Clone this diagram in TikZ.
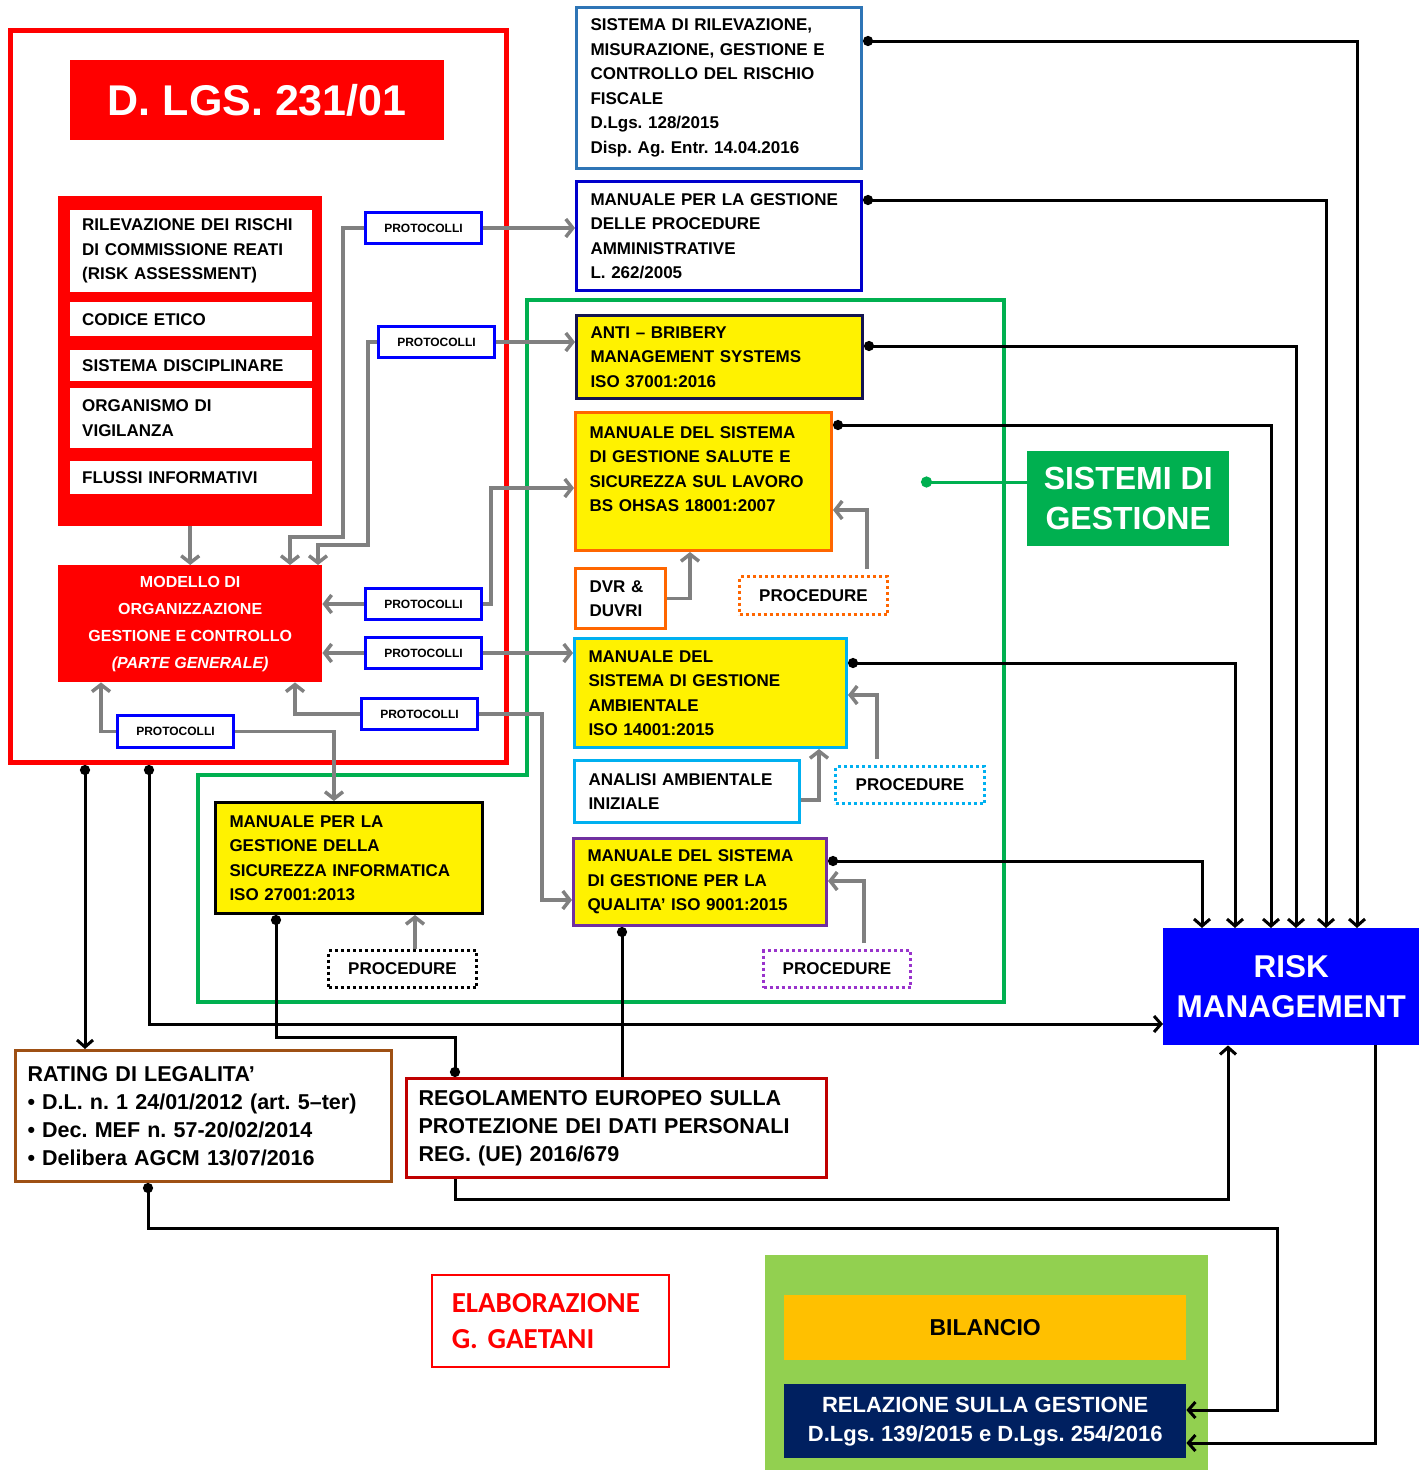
\documentclass[tikz,border=0pt]{standalone}
\usepackage{fontspec}
\setmainfont{Liberation Sans}
\newfontfamily\calfont{Carlito}
\usetikzlibrary{arrows.meta}
\frenchspacing

\definecolor{lgsred}{RGB}{255,0,0}
\definecolor{protblue}{RGB}{0,0,255}
\definecolor{arrowgray}{RGB}{128,128,128}
\definecolor{fiscblue}{RGB}{46,117,182}
\definecolor{mpablue}{RGB}{0,0,204}
\definecolor{antinavy}{RGB}{20,20,80}
\definecolor{hseorange}{RGB}{255,102,0}
\definecolor{ambcyan}{RGB}{0,176,240}
\definecolor{qualpurple}{RGB}{112,48,160}
\definecolor{procpurple}{RGB}{153,51,204}
\definecolor{sgreen}{RGB}{0,176,80}
\definecolor{ratingbrown}{RGB}{158,80,20}
\definecolor{regred}{RGB}{192,0,0}
\definecolor{panelgreen}{RGB}{146,208,80}
\definecolor{bilorange}{RGB}{255,192,0}
\definecolor{relnavy}{RGB}{0,32,96}
\definecolor{rmblue}{RGB}{0,0,255}

\tikzset{
  every node/.style={anchor=north west},
  row/.style={fill=white, text width=218pt, inner xsep=12pt, inner ysep=0pt, align=left,
    font=\bfseries\fontsize{17}{24.5}\selectfont},
  box/.style={draw, line width=3pt, fill=white, inner xsep=14pt, inner ysep=0pt, align=left,
    font=\bfseries\fontsize{17}{24.5}\selectfont},
  prot/.style={draw=protblue, line width=3pt, fill=white, minimum width=116pt, minimum height=31pt,
    inner sep=0pt, font=\bfseries\fontsize{12}{14}\selectfont},
  proc/.style={draw=#1, line width=3pt, dash pattern=on 3pt off 3pt, fill=white, inner sep=0pt,
    font=\bfseries\fontsize{17}{20}\selectfont},
  gr/.style={draw=arrowgray, line width=3.5pt, -{Straight Barb[length=7pt,width=18pt]}},
  bk/.style={draw=black, line width=3pt},
  bkarr/.style={bk, -{Straight Barb[length=7pt,width=16pt]}},
  bkdotarr/.style={bk, {Circle[length=10pt]}-{Straight Barb[length=7pt,width=16pt]}},
  bkdot/.style={bk, {Circle[length=10pt]}-},
  bkdotdot/.style={bk, {Circle[length=10pt]}-{Circle[length=10pt]}},
}

\begin{document}
\begin{tikzpicture}[x=1pt, y=-1pt]
\useasboundingbox (0,0) rectangle (1427,1470);

% D. Lgs. 231/01
\node[draw=lgsred, line width=5pt, minimum width=496pt, minimum height=732pt, inner sep=0pt] (dlgs) at (8,28) {};
\node[fill=lgsred, minimum width=374pt, minimum height=80pt, inner sep=0pt, text=white,
  font=\bfseries\fontsize{43}{50}\selectfont] (title) at (70,60) {D. LGS. 231/01};
\node[fill=lgsred, minimum width=264pt, minimum height=330pt, inner sep=0pt] (parti) at (58,196) {};
\node[row, minimum height=82pt] (rischi) at (70,210) {RILEVAZIONE DEI RISCHI\\DI COMMISSIONE REATI\\(RISK ASSESSMENT)};
\node[row, minimum height=34pt] (codice) at (70,302) {CODICE ETICO};
\node[row, minimum height=31pt] (discip) at (70,350) {SISTEMA DISCIPLINARE};
\node[row, minimum height=60pt] (odv) at (70,388) {ORGANISMO DI\\VIGILANZA};
\node[row, minimum height=33pt] (flussi) at (70,461) {FLUSSI INFORMATIVI};
\node[fill=lgsred, text=white, minimum width=264pt, minimum height=117pt, inner sep=0pt, align=center,
  font=\bfseries\fontsize{16}{27}\selectfont] (modello) at (58,565)
  {MODELLO DI\\ORGANIZZAZIONE\\GESTIONE E CONTROLLO\\\textit{(PARTE GENERALE)}};

\node[prot] (p1) at (364,211) {PROTOCOLLI};
\node[prot] (p2) at (377,325) {PROTOCOLLI};
\node[prot] (p3) at (364,587) {PROTOCOLLI};
\node[prot] (p4) at (364,636) {PROTOCOLLI};
\node[prot] (p5) at (360,697) {PROTOCOLLI};
\node[prot, minimum height=32pt] (p6) at (116,714) {PROTOCOLLI};

% sistemi di gestione
\draw[sgreen, line width=4pt] (527,300) -- (1004,300) -- (1004,1002) -- (198,1002) -- (198,775) -- (527,775) -- cycle;

\node[box, draw=fiscblue, text width=257pt, minimum height=161pt] (fisc) at (575,6)
  {SISTEMA DI RILEVAZIONE,\\MISURAZIONE, GESTIONE E\\CONTROLLO DEL RISCHIO\\FISCALE\\D.Lgs. 128/2015\\Disp. Ag. Entr. 14.04.2016};
\node[box, draw=mpablue, text width=257pt, minimum height=109pt] (mpa) at (575,180)
  {MANUALE PER LA GESTIONE\\DELLE PROCEDURE\\AMMINISTRATIVE\\L. 262/2005};
\node[box, draw=antinavy, fill=yellow, text width=258pt, minimum height=83pt] (anti) at (575,314)
  {ANTI – BRIBERY\\MANAGEMENT SYSTEMS\\ISO 37001:2016};
\node[box, draw=hseorange, fill=yellow, text width=228pt, minimum height=138pt] (hse) at (574,411)
  {MANUALE DEL SISTEMA\\DI GESTIONE SALUTE E\\SICUREZZA SUL LAVORO\\BS OHSAS 18001:2007\\\mbox{}};
\node[box, draw=hseorange, text width=62pt, minimum height=60pt] (dvr) at (574,567) {DVR \&\\DUVRI};
\node[proc=hseorange, minimum width=148pt, minimum height=38pt] (proch) at (738,575) {PROCEDURE};
\node[box, draw=ambcyan, fill=yellow, text width=244pt, minimum height=109pt] (amb) at (573,637)
  {MANUALE DEL\\SISTEMA DI GESTIONE\\AMBIENTALE\\ISO 14001:2015};
\node[box, draw=ambcyan, text width=197pt, minimum height=62pt] (ana) at (573,759) {ANALISI AMBIENTALE\\INIZIALE};
\node[proc=ambcyan, minimum width=149pt, minimum height=37pt] (proca) at (834,765) {PROCEDURE};
\node[box, draw=qualpurple, fill=yellow, text width=225pt, minimum height=87pt] (qual) at (572,837)
  {MANUALE DEL SISTEMA\\DI GESTIONE PER LA\\QUALITA’ ISO 9001:2015};
\node[proc=procpurple, minimum width=147pt, minimum height=37pt] (procq) at (762,949) {PROCEDURE};
\node[box, draw=black, fill=yellow, text width=239pt, minimum height=111pt] (sic) at (214,801)
  {MANUALE PER LA\\GESTIONE DELLA\\SICUREZZA INFORMATICA\\ISO 27001:2013};
\node[proc=black, minimum width=148pt, minimum height=37pt] (procs) at (327,949) {PROCEDURE};
\node[fill=sgreen, text=white, minimum width=202pt, minimum height=95pt, inner sep=0pt, align=center,
  font=\bfseries\fontsize{32}{40}\selectfont] (sg) at (1027,451) {SISTEMI DI\\GESTIONE};

\node[fill=rmblue, text=white, minimum width=256pt, minimum height=117pt, inner sep=0pt, align=center,
  font=\bfseries\fontsize{31.5}{40}\selectfont] (rm) at (1163,928) {RISK\\MANAGEMENT};

\node[box, draw=ratingbrown, inner xsep=12pt, text width=352pt, minimum height=131pt,
  font=\bfseries\fontsize{21.5}{28}\selectfont] (rating) at (14,1049)
  {RATING DI LEGALITA’\\• D.L. n. 1 24/01/2012 (art. 5–ter)\\• Dec. MEF n. 57-20/02/2014\\• Delibera AGCM 13/07/2016};
\node[box, draw=regred, inner xsep=12pt, text width=396pt, minimum height=99pt,
  font=\bfseries\fontsize{21.5}{28}\selectfont] (reg) at (405,1077)
  {REGOLAMENTO EUROPEO SULLA\\PROTEZIONE DEI DATI PERSONALI\\REG. (UE) 2016/679};

\node[draw=lgsred, line width=1.5pt, inner xsep=20pt, inner ysep=0pt, text width=197pt, minimum height=92pt,
  align=left, text=lgsred, font=\calfont\bfseries\fontsize{29}{36}\selectfont] (elab) at (431,1274)
  {ELABORAZIONE\\G. GAETANI};

\node[fill=panelgreen, minimum width=443pt, minimum height=215pt, inner sep=0pt] (panel) at (765,1255) {};
\node[fill=bilorange, minimum width=402pt, minimum height=65pt, inner sep=0pt,
  font=\bfseries\fontsize{23}{28}\selectfont] (bil) at (784,1295) {BILANCIO};
\node[fill=relnavy, text=white, minimum width=402pt, minimum height=74pt, inner sep=0pt, align=center,
  font=\bfseries\fontsize{22}{29}\selectfont] (rel) at (784,1384)
  {RELAZIONE SULLA GESTIONE\\D.Lgs. 139/2015 e D.Lgs. 254/2016};

\coordinate (sgdot) at (921,482);
\draw[sgreen, line width=3pt, -{Circle[length=11pt]}] (sg.west |- sgdot) -- (sgdot);

\draw[gr] (parti.south) -- (modello.north -| parti.south);
\draw[gr] (p1.east) -- (mpa.west |- p1.east);
\draw[gr] (p1.west) -| (343,537) -| (modello.north -| 290,0);
\draw[gr] (p2.east) -- (anti.west |- p2.east);
\draw[gr] (p2.west) -| (368,545) -| (modello.north -| 318,0);
\draw[gr] (p3.west) -- (modello.east |- p3.west);
\draw[gr] (p3.east) -| (491,488) -- (hse.west |- 0,488);
\draw[gr] (p4.west) -- (modello.east |- p4.west);
\draw[gr] (p4.east) -- (amb.west |- p4.east);
\draw[gr] (p5.west) -| (modello.south -| 295,0);
\draw[gr] (p5.east) -| (542,900) -- (qual.west |- 0,900);
\draw[gr] (p6.west) -| (modello.south -| 101,0);
\draw[gr] (p6.east) -| (sic.north -| 334,0);
\draw[gr] (dvr.east) -| (hse.south -| 690,0);
\draw[gr, shorten <=6pt] (proch.north -| 867,0) |- (hse.east |- 0,510);
\draw[gr] (ana.east |- 0,800) -| (amb.south -| 819,0);
\draw[gr, shorten <=6pt] (proca.north -| 877,0) |- (amb.east |- 0,695);
\draw[gr, shorten <=6pt] (procq.north -| 864,0) |- (qual.east |- 0,881);
\draw[gr] (procs.north -| 415,0) -- (sic.south -| 415,0);

\draw[bkdotarr] (fisc.east |- 0,41) -| (rm.north -| 1357,0);
\draw[bkdotarr] (mpa.east |- 0,200) -| (rm.north -| 1326,0);
\draw[bkdotarr] (anti.east |- 0,346) -| (rm.north -| 1296,0);
\draw[bkdotarr] (hse.east |- 0,425) -| (rm.north -| 1271,0);
\draw[bkdotarr] (amb.east |- 0,663) -| (rm.north -| 1235,0);
\draw[bkdotarr] (qual.east |- 0,861) -| (rm.north -| 1202,0);
\draw[bkdotarr] (dlgs.south -| 85,0) -- (rating.north -| 85,0);
\draw[bkdotarr] (dlgs.south -| 149,0) |- (rm.west |- 0,1024);
\draw[bkdotdot] (sic.south -| 276,0) |- (455,1037) -- (reg.north -| 455,0);
\draw[bkdot] (qual.south -| 622,0) -- (reg.north -| 622,0);
\draw[bkarr] (reg.south -| 455,0) |- (1228,1199) -- (rm.south -| 1228,0);
\draw[bkdotarr] (rating.south -| 148,0) |- (1277,1228) |- (rel.east |- 0,1410);
\draw[bkarr] (rm.south -| 1375,0) |- (rel.east |- 0,1443);
\end{tikzpicture}
\end{document}
